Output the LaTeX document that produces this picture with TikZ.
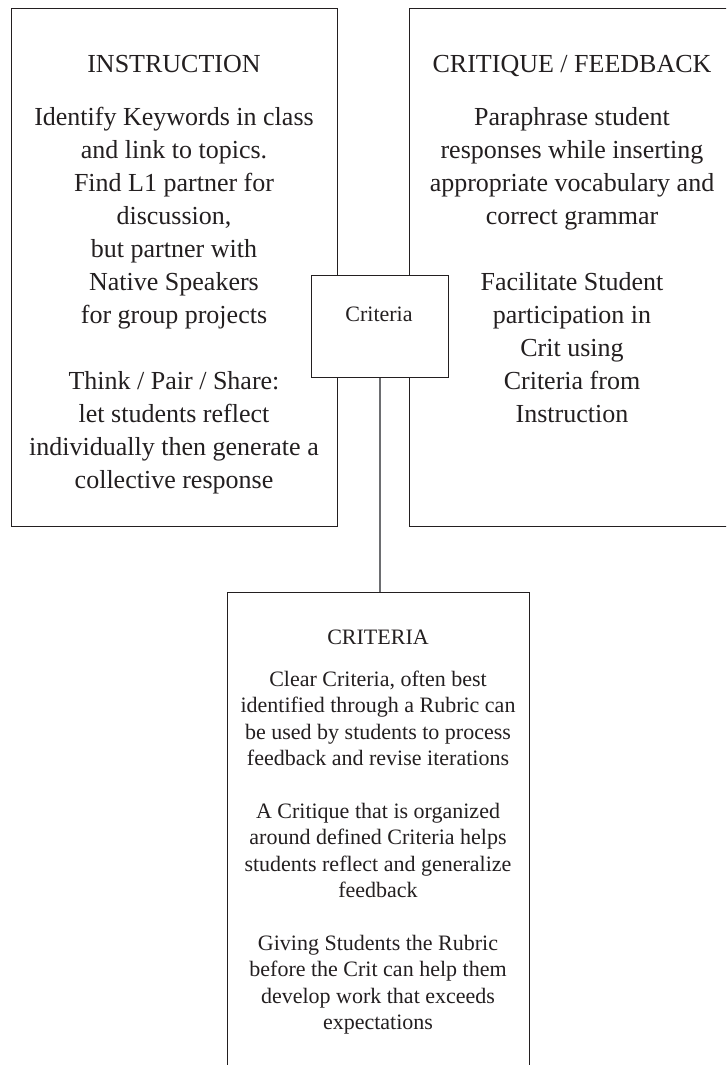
\documentclass[tikz,border=0pt]{standalone}
\usepackage{fontspec}
\setmainfont{Liberation Serif}
\definecolor{ink}{HTML}{231F20}
\definecolor{linkgray}{HTML}{6D6E71}
\begin{document}
\begin{tikzpicture}[x=1pt,y=-1pt,
  frame/.style={draw=ink, line width=1.1pt, inner sep=0pt, anchor=north west},
  bigtext/.style={font=\fontsize{26}{33}\selectfont, text=ink, anchor=base, inner sep=0pt},
  smalltext/.style={font=\fontsize{22}{26}\selectfont, text=ink, anchor=base, inner sep=0pt},
  link/.style={draw=linkgray, line width=1.5pt}]
\useasboundingbox (0,0) rectangle (726,1065);
\clip (0,0) rectangle (726,1065);
\fill[white] (0,0) rectangle (726,1065);
% boxes
\node[frame, minimum width=326pt, minimum height=518pt] (instr) at (11,8) {};
\node[frame, minimum width=326pt, minimum height=518pt] (critique) at (409,8) {};
\node[frame, minimum width=302pt, minimum height=540pt] (criteria) at (227,592) {};
\node[frame, fill=white, minimum width=137pt, minimum height=102pt] (mini) at (311,275) {};
\draw[link] (mini.south) -- (mini.south |- criteria.north);
\node[smalltext] (minilabel) at (379,321) {Criteria};
% left box text
\foreach \t/\y [count=\i] in {INSTRUCTION/72, Identify Keywords in class/125,
  and link to topics./158, Find L1 partner for/191, {discussion,}/224,
  but partner with/257, Native Speakers/290, for group projects/323,
  {Think / Pair / Share:}/389, let students reflect/422,
  individually then generate a/455, collective response/488}
  \node[bigtext] (L\i) at (174,\y) {\t};
% right box text
\foreach \t/\y [count=\i] in {{CRITIQUE / FEEDBACK}/72, Paraphrase student/125,
  responses while inserting/158, appropriate vocabulary and/191,
  correct grammar/224, Facilitate Student/290, participation in/323,
  Crit using/356, Criteria from/389, Instruction/422}
  \node[bigtext] (R\i) at (572,\y) {\t};
% bottom box text
\foreach \t/\y [count=\i] in {CRITERIA/644, {Clear Criteria, often best}/686,
  identified through a Rubric can/712.5, be used by students to process/739,
  feedback and revise iterations/765.5, A Critique that is organized/818,
  around defined Criteria helps/844.5, students reflect and generalize/871,
  feedback/897.5, Giving Students the Rubric/950, before the Crit can help them/976.5,
  develop work that exceeds/1003, expectations/1029.5}
  \node[smalltext] (B\i) at (378,\y) {\t};
\end{tikzpicture}
\end{document}
